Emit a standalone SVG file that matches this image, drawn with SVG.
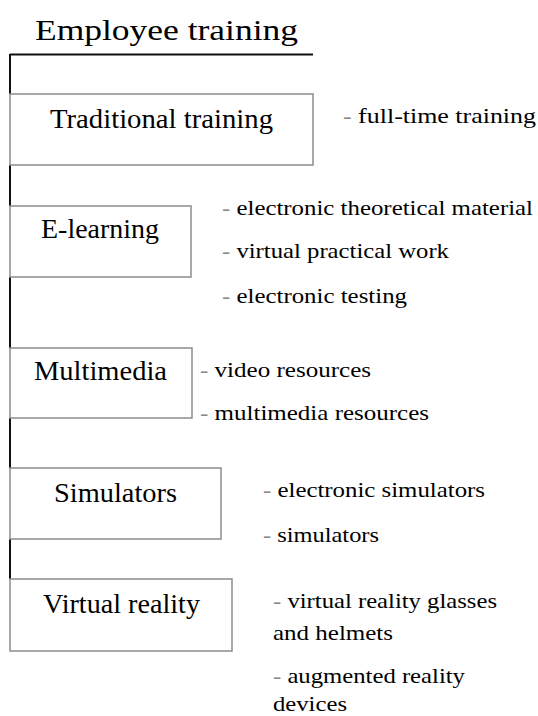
<svg xmlns="http://www.w3.org/2000/svg" width="538" height="716" viewBox="0 0 538 716">
  <style>
    text { fill: #000; }
    .title { font-size: 30px; }
    .label { font-size: 28px; }
    .item { font-size: 21px; }
    .dash { fill: #888; }
    .box { fill: none; stroke: #8c8c8c; stroke-width: 1.5; }
    .trunk { stroke: #111; stroke-width: 2; fill: none; }
  </style>
  <rect width="538" height="716" fill="#fff"/>

  <g font-family="'Liberation Serif', 'Times New Roman', Times, serif">
  <g id="title">
    <text class="title" x="35" y="40" textLength="263" lengthAdjust="spacingAndGlyphs">Employee training</text>
  </g>

  <!-- trunk: heading rule and the vertical spine joining the boxes -->
  <g id="connectors">
    <path class="trunk" d="M10 54.5 H313"/>
    <path class="trunk" d="M10 54 V94 M10 165 V206 M10 277 V348 M10 418 V468 M10 539 V579"/>
  </g>

  <g id="traditional">
    <rect class="box" x="10" y="94" width="303" height="71"/>
    <text class="label" x="50" y="128" textLength="223" lengthAdjust="spacingAndGlyphs">Traditional training</text>
    <text class="item" x="343" y="123" textLength="193" lengthAdjust="spacingAndGlyphs"><tspan class="dash">-</tspan> full-time training</text>
  </g>

  <g id="elearning">
    <rect class="box" x="10" y="206" width="181" height="71"/>
    <text class="label" x="41" y="238" textLength="118" lengthAdjust="spacingAndGlyphs">E-learning</text>
    <text class="item" x="222" y="215" textLength="311" lengthAdjust="spacingAndGlyphs"><tspan class="dash">-</tspan> electronic theoretical material</text>
    <text class="item" x="222" y="258" textLength="227" lengthAdjust="spacingAndGlyphs"><tspan class="dash">-</tspan> virtual practical work</text>
    <text class="item" x="222" y="303" textLength="185" lengthAdjust="spacingAndGlyphs"><tspan class="dash">-</tspan> electronic testing</text>
  </g>

  <g id="multimedia">
    <rect class="box" x="10" y="348" width="182" height="70"/>
    <text class="label" x="34" y="380" textLength="133" lengthAdjust="spacingAndGlyphs">Multimedia</text>
    <text class="item" x="200" y="377" textLength="171" lengthAdjust="spacingAndGlyphs"><tspan class="dash">-</tspan> video resources</text>
    <text class="item" x="200" y="420" textLength="229" lengthAdjust="spacingAndGlyphs"><tspan class="dash">-</tspan> multimedia resources</text>
  </g>

  <g id="simulators">
    <rect class="box" x="10" y="468" width="211" height="71"/>
    <text class="label" x="54" y="502" textLength="123" lengthAdjust="spacingAndGlyphs">Simulators</text>
    <text class="item" x="263" y="497" textLength="222" lengthAdjust="spacingAndGlyphs"><tspan class="dash">-</tspan> electronic simulators</text>
    <text class="item" x="263" y="542" textLength="116" lengthAdjust="spacingAndGlyphs"><tspan class="dash">-</tspan> simulators</text>
  </g>

  <g id="virtual-reality">
    <rect class="box" x="10" y="579" width="222" height="72"/>
    <text class="label" x="43" y="613" textLength="157" lengthAdjust="spacingAndGlyphs">Virtual reality</text>
    <text class="item" x="273" y="608" textLength="224" lengthAdjust="spacingAndGlyphs"><tspan class="dash">-</tspan> virtual reality glasses</text>
    <text class="item" x="273" y="640" textLength="120" lengthAdjust="spacingAndGlyphs">and helmets</text>
    <text class="item" x="273" y="683" textLength="192" lengthAdjust="spacingAndGlyphs"><tspan class="dash">-</tspan> augmented reality</text>
    <text class="item" x="273" y="711" textLength="74" lengthAdjust="spacingAndGlyphs">devices</text>
  </g>
  </g>
</svg>
